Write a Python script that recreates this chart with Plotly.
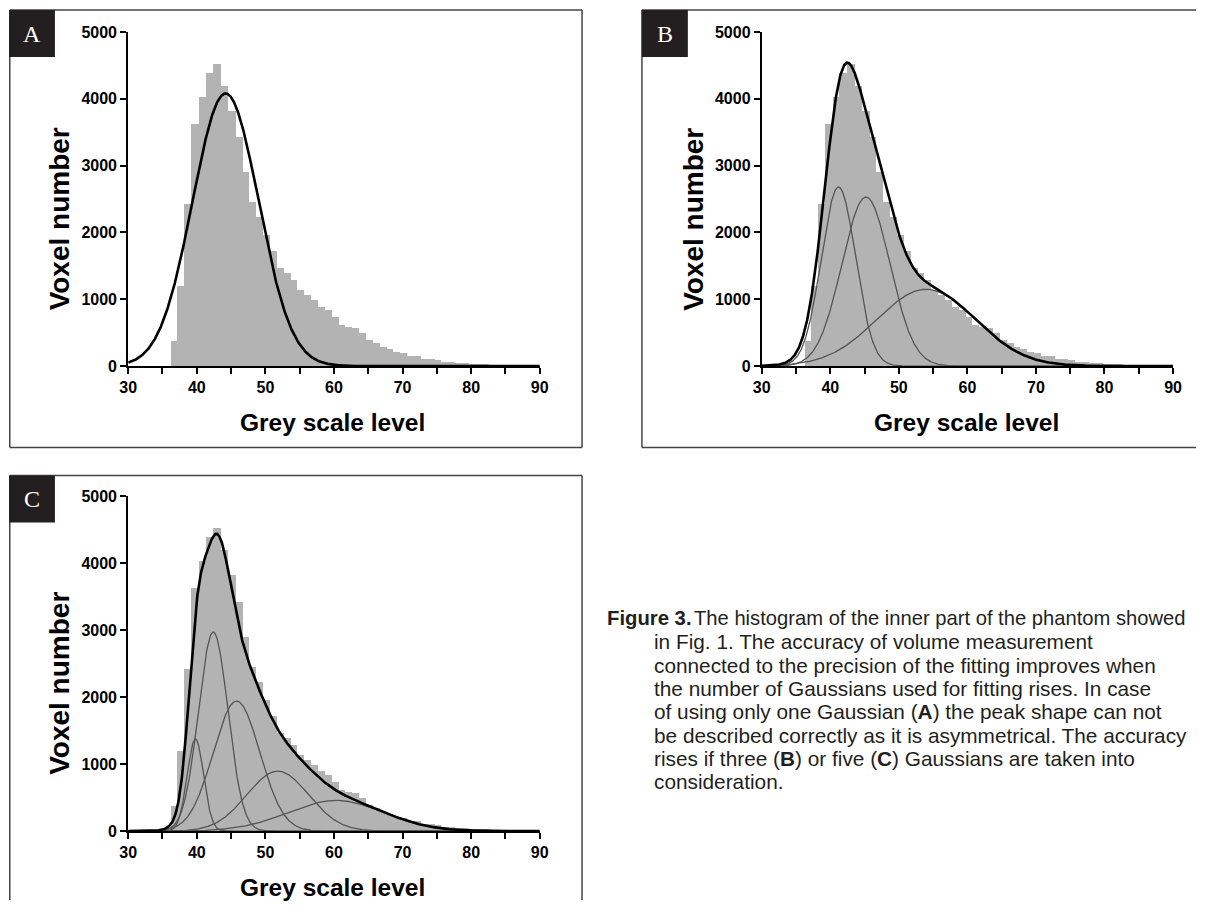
import numpy as np
import plotly.graph_objects as go

W, H = 1205, 909
# The returned picture shows the page inside an 8 px frame (picture = 8 + 0.987 * page),
# so positions are given in picture pixels and converted here.
FRAME = 8
EFF_W, EFF_H = W - 2 * FRAME, H - 2 * FRAME

# ---------------- data ----------------
bin_edges = [36.2, 37.2, 38.2, 39.2, 40.3, 41.3, 42.4, 43.5, 44.6, 45.7, 46.7, 47.7, 48.7,
             49.7, 50.7, 51.7, 52.7, 53.7, 54.7, 55.7, 56.7, 57.7, 58.7, 59.7, 60.7, 61.7,
             62.7, 63.7, 64.7, 65.7, 66.7, 67.7, 68.7, 69.7, 70.7, 71.7, 72.7, 73.7, 74.7,
             75.7, 76.7, 77.7, 78.7, 79.7, 80.7, 81.7, 82.7, 83.7, 84.7, 85.7, 86.7, 87.7,
             88.7, 89.7, 90.0]
voxel_counts = [380, 1200, 2425, 3620, 4030, 4385, 4520, 4195, 3820, 3425, 2900, 2450, 2225,
                1960, 1720, 1465, 1390, 1290, 1140, 1065, 990, 890, 840, 740, 615, 590,
                565, 490, 390, 340, 290, 250, 215, 190, 155, 150, 110, 105, 95,
                65, 60, 45, 40, 35, 30, 25, 20, 15, 12, 10, 8, 6,
                5, 4]

# Gaussian fit parameters: amplitude, centre, sigma
fit_A = [(4080, 44.2, 4.8)]
fit_B = [(2680, 41.2, 2.5), (2530, 45.2, 3.5), (1150, 54.0, 7.2)]
fit_C = [(1375, 39.8, 1.2), (2970, 42.4, 2.15), (1940, 45.8, 3.4), (894, 51.8, 4.5), (457, 60.3, 7.0)]

x_ticks = [30, 40, 50, 60, 70, 80, 90]
y_ticks = [0, 1000, 2000, 3000, 4000, 5000]
x_title = "Grey scale level"
y_title = "Voxel number"
panel_letters = ["A", "B", "C"]

caption_lines = [
    "The histogram of the inner part of the phantom showed",
    "in Fig. 1. The accuracy of volume measurement",
    "connected to the precision of the fitting improves when",
    "the number of Gaussians used for fitting rises. In case",
    "of using only one Gaussian (<b>A</b>) the peak shape can not",
    "be described correctly as it is asymmetrical. The accuracy",
    "rises if three (<b>B</b>) or five (<b>C</b>) Gaussians are taken into",
    "consideration.",
]

# ---------------- helpers: picture pixel -> paper fraction ----------------
def px(x):
    return min(max((x - FRAME) / EFF_W, 0), 1)

def py(y):
    return min(max(1 - (y - FRAME) / EFF_H, 0), 1)

xs = np.linspace(30, 90, 1201)

def gauss(a, m, s):
    return a * np.exp(-((xs - m) ** 2) / (2 * s * s))

centers = [(bin_edges[i] + bin_edges[i + 1]) / 2 for i in range(len(voxel_counts))]
widths = [bin_edges[i + 1] - bin_edges[i] for i in range(len(voxel_counts))]

fig = go.Figure()

panels = [
    # axis suffix, fits, x px (30, 90), y px (0, 5000)
    ("1", fit_A, (127.4, 539.6), (366.5, 32)),
    ("2", fit_B, (762, 1174), (366.5, 32)),
    ("3", fit_C, (127.4, 539.6), (832, 496.5)),
]

FONT = "Liberation Sans, Arial, sans-serif"
tickfont = dict(family=FONT, size=16, color="black", weight="bold")
xtitlefont = dict(family=FONT, size=24.5, color="black", weight="bold")
ytitlefont = dict(family=FONT, size=28, color="black", weight="bold")

annotations = []
for name, fits, (x0, x1), (y0, y1) in panels:
    xa = "x" if name == "1" else "x" + name
    ya = "y" if name == "1" else "y" + name
    fig.add_trace(go.Bar(x=centers, y=voxel_counts, width=widths, marker=dict(color="#b3b3b3", line=dict(width=0)),
                         xaxis=xa, yaxis=ya, showlegend=False, hoverinfo="skip"))
    if len(fits) > 1:
        for (a, m, s) in fits:
            fig.add_trace(go.Scatter(x=xs, y=gauss(a, m, s), mode="lines", line=dict(color="#555555", width=1.3),
                                     xaxis=xa, yaxis=ya, showlegend=False, hoverinfo="skip"))
    total = sum(gauss(a, m, s) for (a, m, s) in fits)
    fig.add_trace(go.Scatter(x=xs, y=total, mode="lines", line=dict(color="black", width=2.6),
                             xaxis=xa, yaxis=ya, showlegend=False, hoverinfo="skip"))

    xkey = "xaxis" if name == "1" else "xaxis" + name
    ykey = "yaxis" if name == "1" else "yaxis" + name
    fig.update_layout(**{
        xkey: dict(domain=[px(x0), px(x1)], anchor=ya, range=[30, 90], tickvals=x_ticks,
                   showline=True, linecolor="black", linewidth=2, ticks="outside", ticklen=6, tickwidth=2,
                   tickcolor="black", showgrid=False, zeroline=False, tickfont=tickfont,
                   minor=dict(dtick=5, tick0=30, ticks="outside", ticklen=6, tickwidth=2, tickcolor="black", showgrid=False)),
        ykey: dict(domain=[py(y0), py(y1)], anchor=xa, range=[0, 5000], tickvals=y_ticks,
                   showline=True, linecolor="black", linewidth=2, ticks="outside", ticklen=6, tickwidth=2,
                   tickcolor="black", showgrid=False, zeroline=False, tickfont=tickfont),
    })
    annotations.append(dict(text=x_title, xref="paper", yref="paper", x=px((x0 + x1) / 2 - 1), y=py(y0 + 56),
                            xanchor="center", yanchor="middle", showarrow=False, font=xtitlefont))
    annotations.append(dict(text=y_title, xref="paper", yref="paper", x=px(x0 - 69), y=py((y0 + y1) / 2 + 20),
                            xanchor="center", yanchor="middle", showarrow=False, font=ytitlefont, textangle=-90))

# panel frames (open on the sides that run off the page)
frame = dict(color="#444444", width=1.5)
frame_lines = [
    (8.8, 10, 582, 10), (8.8, 10, 8.8, 448), (582, 10, 582, 448), (8.8, 448, 582, 448),
    (642, 10, 1205, 10), (642, 10, 642, 448), (642, 448, 1205, 448),
    (8.8, 476, 582, 476), (8.8, 476, 8.8, 909), (582, 476, 582, 909),
]
labels_pos = [(8, 10), (642, 10), (8, 476)]
shapes = []
for (a0, b0, a1, b1) in frame_lines:
    shapes.append(dict(type="line", xref="paper", yref="paper", x0=px(a0), x1=px(a1), y0=py(b0), y1=py(b1),
                       line=frame, layer="below"))
for (lx, ly), letter in zip(labels_pos, panel_letters):
    shapes.append(dict(type="rect", xref="paper", yref="paper", x0=px(lx), x1=px(lx + 46), y0=py(ly + 47), y1=py(ly),
                       line=dict(width=0), fillcolor="#231f20", layer="above"))
    annotations.append(dict(text=letter, xref="paper", yref="paper", x=px(lx + 23), y=py(ly + 24),
                            xanchor="center", yanchor="middle", showarrow=False,
                            font=dict(family="Liberation Serif, DejaVu Serif, serif", size=24, color="white")))

capfont = dict(family=FONT, size=20.8, color="#231f20")
annotations.append(dict(text="<b>Figure 3.</b>", xref="paper", yref="paper", x=px(605), y=py(619),
                        xanchor="left", yanchor="middle", showarrow=False,
                        font=dict(family=FONT, size=20.3, color="#231f20")))
for i, line in enumerate(caption_lines):
    x0 = 692 if i == 0 else 652
    f = dict(capfont, size=20.2) if i == 0 else capfont
    annotations.append(dict(text=line, xref="paper", yref="paper", x=px(x0), y=py(619 + i * 23.4),
                            xanchor="left", yanchor="middle", showarrow=False, font=f))

fig.update_layout(width=W, height=H, margin=dict(l=0, r=0, t=0, b=0), paper_bgcolor="white",
                  plot_bgcolor="white", bargap=0, shapes=shapes, annotations=annotations)

fig.write_html("out.html", config={"displayModeBar": False},
               post_script="document.body.style.margin='0px';document.body.style.overflow='hidden';")
